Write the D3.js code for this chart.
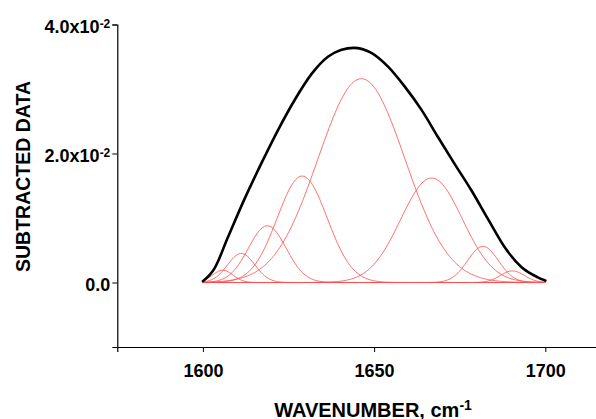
<!DOCTYPE html>
<html>
<head>
<meta charset="utf-8">
<script src="https://cdn.jsdelivr.net/npm/d3@7"></script>
<style>
  html, body { margin: 0; padding: 0; background: #fff; }
  svg { display: block; overflow: hidden; }
  text { font-family: Arial, "Liberation Sans", sans-serif; fill: #000; }
</style>
</head>
<body>
<svg id="chart" width="596" height="419"></svg>
<script>
const wavenumbers = [1600, 1603.4, 1607.3, 1612.2, 1617.1, 1621.9, 1626.8, 1631.7, 1636.5, 1640.5,
  1644.0, 1649.2, 1654.0, 1658.9, 1663.8, 1668.6, 1673.5, 1678.4, 1683.2, 1688.1, 1693.0, 1697.8, 1700];
const absorbance = [0.0002, 0.0022, 0.0070, 0.0130, 0.0185, 0.0236, 0.0283, 0.0323, 0.0350, 0.0361,
  0.03638, 0.0356, 0.0335, 0.0304, 0.0268, 0.0226, 0.0184, 0.0143, 0.0099, 0.0055, 0.0024, 0.0008, 0.0003];

// fitted component bands: position, height, width
const bandCenters = [1605.8, 1611.2, 1618.8, 1629.0, 1646.3, 1666.8, 1681.8, 1690.4];
const bandHeights = [0.0019, 0.0045, 0.0088, 0.0165, 0.0316, 0.0162, 0.0056, 0.0018];
const bandWidths = [3.0, 4.0, 5.5, 7.3, 12.7, 9.0, 4.5, 3.5];

const xTicksMajor = [1600, 1650, 1700];
const xTicksMinor = [1575, 1625, 1675];
const yTicksMajor = [0, 0.02, 0.04];
const yTicksMinor = [-0.01, 0.01, 0.03];
const yTickLabels = { 0: ["0.0", null], 0.02: ["2.0x10", "-2"], 0.04: ["4.0x10", "-2"] };

const svg = d3.select("#chart");

const x = d3.scaleLinear().domain([1575, 1725]).range([117.3, 630.9]);
const y = d3.scaleLinear().domain([-0.01, 0.04]).range([347, 24.5]);

// axes
const xAxis = svg.append("g").attr("transform", "translate(0,347)");
xAxis.call(d3.axisBottom(x).tickValues(xTicksMinor).tickSize(3).tickFormat(""));
xAxis.call(d3.axisBottom(x).tickValues(xTicksMajor).tickSize(5).tickPadding(12).tickFormat(d3.format("d")));
xAxis.selectAll(".domain").attr("stroke", "#000").attr("stroke-width", 1.2);
xAxis.selectAll(".tick line").attr("stroke", "#000").attr("stroke-width", 1);
xAxis.selectAll(".tick text")
  .style("font-size", "18px").style("font-weight", "bold");

const yAxis = svg.append("g").attr("transform", "translate(117.3,0)");
yAxis.call(d3.axisLeft(y).tickValues(yTicksMinor).tickSize(3).tickFormat(""));
yAxis.call(d3.axisLeft(y).tickValues(yTicksMajor).tickSize(5).tickPadding(3).tickFormat(""));
yAxis.selectAll(".domain").attr("stroke", "#000").attr("stroke-width", 1.2);
yAxis.selectAll(".tick line").attr("stroke", "#000").attr("stroke-width", 1);
yAxis.selectAll(".tick").filter(d => yTicksMajor.includes(d)).each(function (d) {
  const lab = yTickLabels[d];
  const t = d3.select(this).select("text")
    .attr("x", -7).attr("dy", "0.45em")
    .style("font-size", "18px").style("font-weight", "bold")
    .attr("text-anchor", "end");
  t.append("tspan").text(lab[0]);
  if (lab[1]) {
    t.append("tspan").attr("dy", "-0.45em").style("font-size", "12px").text(lab[1]);
  }
});

// component bands
const line = d3.line().x(d => x(d[0])).y(d => y(d[1]));
const grid = d3.range(1600, 1700.01, 0.5);
bandCenters.forEach((c, i) => {
  const pts = grid.map(w => [w, bandHeights[i] * Math.exp(-((w - c) ** 2) / (2 * bandWidths[i] ** 2))]);
  svg.append("path")
    .attr("d", line(pts))
    .attr("fill", "none")
    .attr("stroke", "#ff4d4d")
    .attr("stroke-opacity", 0.8)
    .attr("stroke-width", 1);
});

// measured spectrum
svg.append("path")
  .datum(wavenumbers.map((w, i) => [w, absorbance[i]]))
  .attr("d", d3.line().x(d => x(d[0])).y(d => y(d[1])).curve(d3.curveMonotoneX))
  .attr("fill", "none")
  .attr("stroke", "#000")
  .attr("stroke-width", 2.6)
  .attr("stroke-linecap", "round");

// axis titles
const xt = svg.append("text")
  .attr("x", 373).attr("y", 416.5)
  .attr("text-anchor", "middle")
  .style("font-size", "20px").style("font-weight", "bold");
xt.append("tspan").text("WAVENUMBER, cm");
xt.append("tspan").attr("dy", "-0.5em").style("font-size", "14px").text("-1");

svg.append("text")
  .attr("transform", "translate(30,176.5) rotate(-90)")
  .attr("text-anchor", "middle")
  .style("font-size", "19.5px").style("font-weight", "bold")
  .text("SUBTRACTED DATA");
</script>
</body>
</html>
